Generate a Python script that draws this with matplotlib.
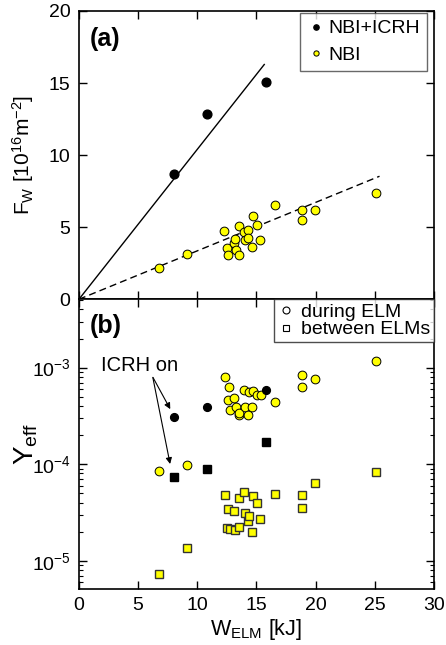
import numpy as np
import matplotlib
matplotlib.use("Agg")
import matplotlib.pyplot as plt

plt.rcParams['font.family'] = ['Liberation Sans', 'DejaVu Sans']
plt.rcParams['mathtext.fontset'] = 'custom'
plt.rcParams['mathtext.rm'] = 'Liberation Sans'
plt.rcParams['mathtext.it'] = 'Liberation Sans'

# --- data ---
w_icrh = [8.0, 10.82, 15.8]
fw_icrh = [8.67, 12.85, 15.07]
y_icrh_during = [3.1e-4, 3.9e-4, 5.9e-4]
y_icrh_between = [7.3e-5, 9.0e-5, 1.69e-4]

w_nbi_a = [6.73, 9.15, 12.28, 12.51, 12.62, 13.13, 13.21, 13.24, 13.49, 13.49, 13.92, 14.03,
           14.31, 14.31, 14.62, 14.73, 15.01, 15.32, 16.59, 18.87, 18.87, 19.97, 25.07]
fw_nbi = [2.19, 3.12, 4.75, 3.58, 3.07, 3.90, 4.18, 3.39, 3.07, 5.10, 4.64, 4.08,
          4.82, 4.27, 3.62, 5.79, 5.17, 4.13, 6.53, 6.16, 5.49, 6.21, 7.36]

w_nbi_b = [6.79, 9.15, 12.31, 12.6, 12.7, 12.79, 13.13, 13.24, 13.49, 13.49, 13.92, 14.03,
           14.31, 14.34, 14.62, 14.73, 15.04, 15.35, 16.59, 18.87, 18.87, 19.97, 25.1]
y_during = [8.5e-5, 9.9e-5, 8.0e-4, 4.6e-4, 6.3e-4, 3.6e-4, 4.8e-4, 3.9e-4, 3.2e-4, 3.4e-4, 5.8e-4, 3.9e-4,
            3.2e-4, 5.6e-4, 3.9e-4, 5.7e-4, 5.2e-4, 5.2e-4, 4.4e-4, 8.4e-4, 6.3e-4, 7.6e-4, 1.18e-3]

w_sq = [6.73, 9.15, 12.31, 12.5, 12.6, 12.8, 13.13, 13.2, 13.49, 13.49, 13.92, 14.03,
        14.28, 14.34, 14.59, 14.73, 15.04, 15.32, 16.59, 18.87, 18.87, 19.97, 25.1]
y_between = [7.3e-6, 1.34e-5, 4.8e-5, 2.2e-5, 3.4e-5, 2.15e-5, 3.3e-5, 2.1e-5, 2.25e-5, 4.45e-5, 5.1e-5, 3.1e-5,
             2.6e-5, 2.9e-5, 2.0e-5, 4.7e-5, 4.0e-5, 2.7e-5, 4.9e-5, 4.8e-5, 3.5e-5, 6.3e-5, 8.3e-5]

# fit lines through origin (slopes) and their end points
k_icrh, end_icrh = 1.04, 15.66
k_nbi, end_nbi = 0.336, 25.4

fig = plt.figure(figsize=(4.46, 6.45), dpi=100)
ax1 = fig.add_axes([0.177, 0.536, 0.796, 0.447])
ax2 = fig.add_axes([0.177, 0.087, 0.796, 0.449])

yellow = '#ffff00'
ms = 6.3

# (a)
xs = np.array([0, end_icrh])
ax1.plot(xs, k_icrh * xs, color='k', lw=1.0)
xs = np.array([0, end_nbi])
ax1.plot(xs, k_nbi * xs, color='k', lw=1.0, ls=(0, (5, 3)))
ax1.plot(w_icrh, fw_icrh, 'o', color='k', ms=ms, label='NBI+ICRH', zorder=3)
ax1.plot(w_nbi_a, fw_nbi, 'o', mfc=yellow, mec='k', mew=0.7, ms=ms, label='NBI', zorder=3)
ax1.set_xlim(0, 30)
ax1.set_ylim(0, 20)
ax1.set_xticks(range(0, 31, 5))
ax1.set_xticklabels([])
ax1.set_yticks(range(0, 21, 5))
ax1.set_ylabel(r'F$_{\rm W}$ [10$^{16}$m$^{-2}$]', fontsize=15)
ax1.yaxis.set_label_coords(-0.12, 0.5)
ax1.text(0.03, 0.945, '(a)', transform=ax1.transAxes, fontsize=18, fontweight='bold', va='top')
leg = ax1.legend(loc='upper right', fontsize=14, handletextpad=0.2, handlelength=0.9,
                 borderpad=0.35, labelspacing=0.45, fancybox=False, borderaxespad=0.0,
                 bbox_to_anchor=(0.98, 0.993), markerscale=0.6)
leg.get_frame().set_edgecolor('#444444')
leg.get_frame().set_linewidth(1.0)

# (b)
ax2.set_yscale('log')
ax2.plot(w_nbi_b, y_during, 'o', mfc=yellow, mec='k', mew=0.7, ms=ms, zorder=3)
ax2.plot(w_sq, y_between, 's', mfc=yellow, mec='#333333', mew=1.0, ms=ms, zorder=3)
ax2.plot(w_icrh, y_icrh_during, 'o', color='k', ms=5.6, zorder=4)
ax2.plot(w_icrh, y_icrh_between, 's', color='k', ms=6.2, zorder=4)
ax2.set_xlim(0, 30)
ax2.set_ylim(5.1e-6, 5.1e-3)
ax2.set_xticks(range(0, 31, 5))
ax2.set_yticks([1e-5, 1e-4, 1e-3])
ax2.set_ylabel(r'Y$_{\rm eff}$', fontsize=20)
ax2.yaxis.set_label_coords(-0.11, 0.5)
ax2.set_xlabel(r'W$_{\rm ELM}$ [kJ]', fontsize=15.5, labelpad=2)
ax2.text(0.03, 0.95, '(b)', transform=ax2.transAxes, fontsize=18, fontweight='bold', va='top')

h1, = ax2.plot([], [], 'o', mfc='white', mec='k', mew=0.8, ms=5)
h2, = ax2.plot([], [], 's', mfc='white', mec='k', mew=0.8, ms=5)
leg2 = ax2.legend([h1, h2], ['during ELM', 'between ELMs'], loc='upper right', fontsize=14,
                  handletextpad=0.3, handlelength=0.9, borderpad=0.2, labelspacing=0.0,
                  fancybox=False, borderaxespad=0.0)
leg2.get_frame().set_edgecolor('#222222')
leg2.get_frame().set_linewidth(1.0)

ax2.annotate('', xy=(7.83, 3.5e-4), xytext=(6.14, 8.4e-4),
             arrowprops=dict(arrowstyle='-|>', color='k', lw=0.8, mutation_scale=9))
ax2.annotate('', xy=(7.75, 9.4e-5), xytext=(6.2, 8.4e-4),
             arrowprops=dict(arrowstyle='-|>', color='k', lw=0.8, mutation_scale=9))
ax2.text(5.14, 1.06e-3, 'ICRH on', fontsize=14.5, ha='center', va='center')

for ax in (ax1, ax2):
    ax.tick_params(which='major', direction='in', length=6, width=1, top=True, right=True,
                   labelsize=14, pad=6)
    ax.tick_params(which='minor', direction='in', length=3, width=0.8, top=True, right=True)
    for s in ax.spines.values():
        s.set_linewidth(1.2)
ax1.tick_params(which='minor', left=False, right=False, top=False, bottom=False)
ax2.tick_params(axis='x', which='minor', top=False, bottom=False)

fig.savefig('out.png', dpi=100)
